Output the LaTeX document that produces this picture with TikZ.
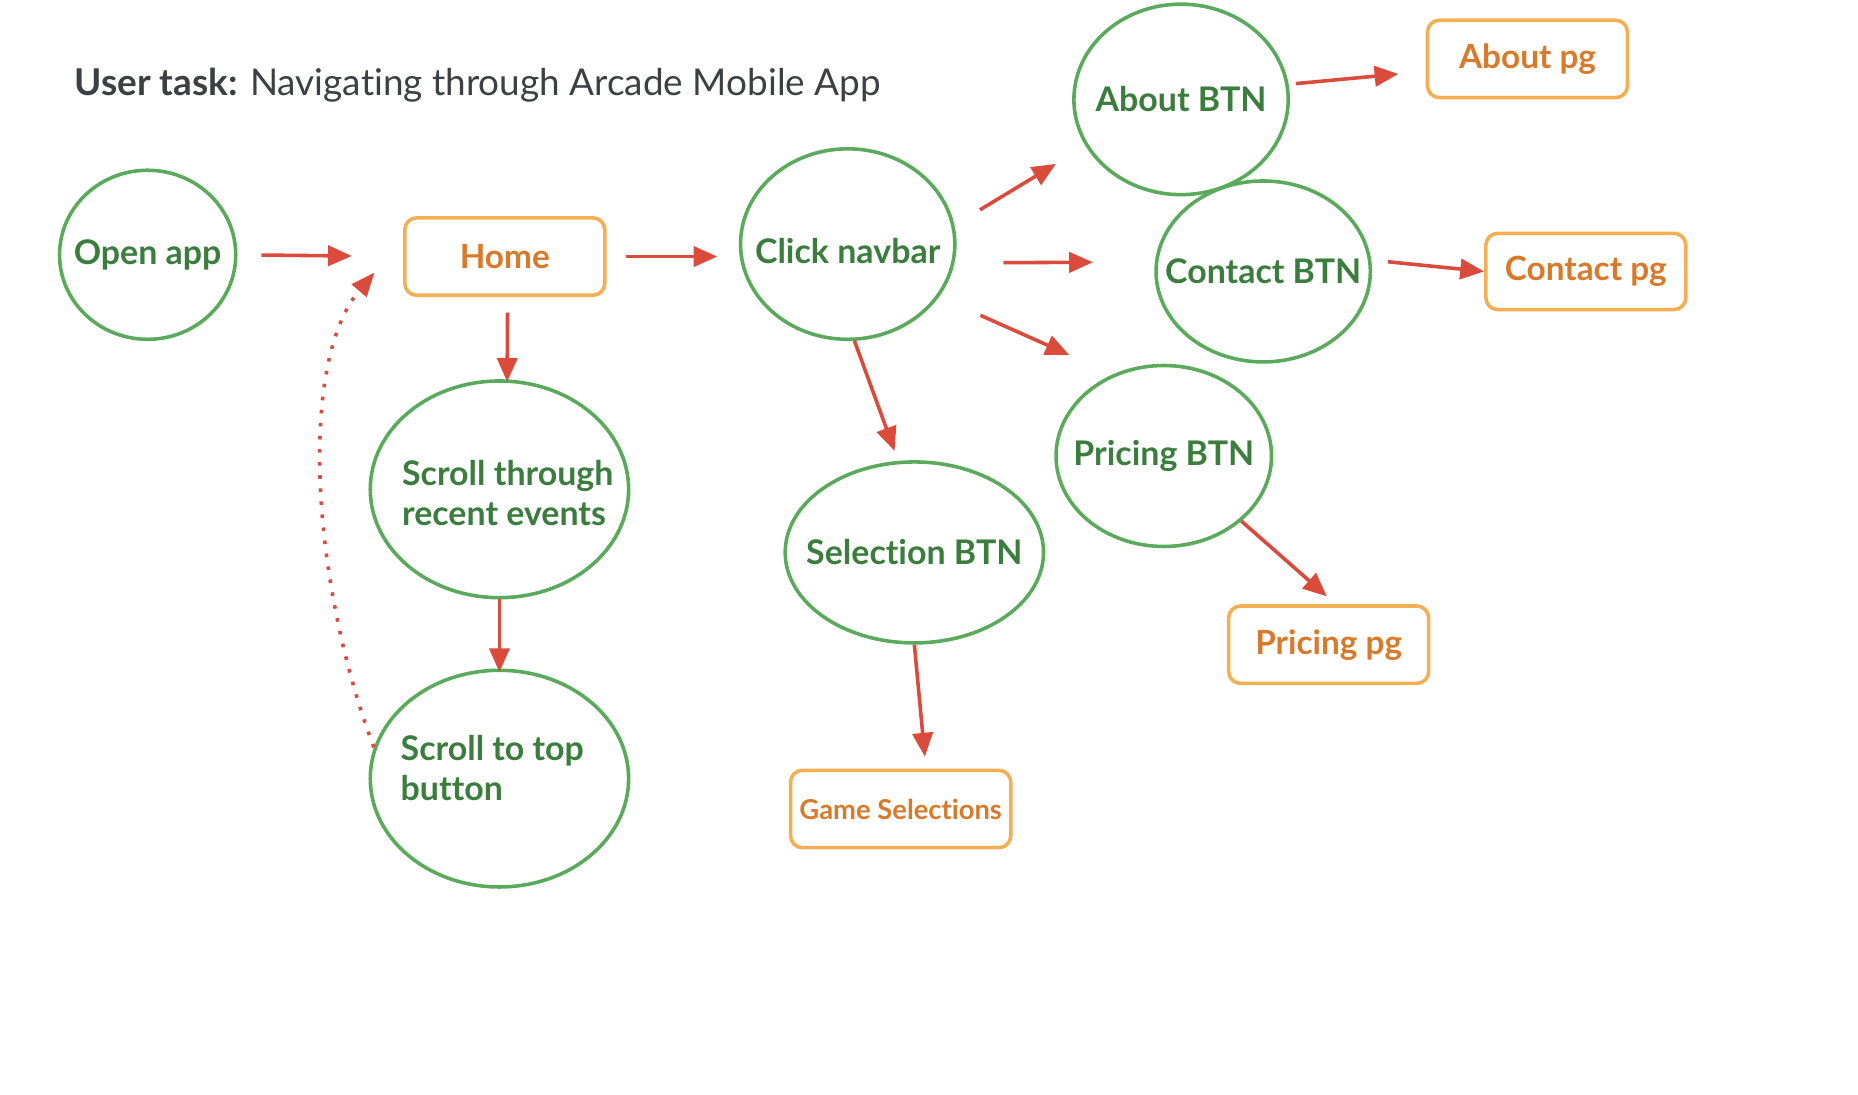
\documentclass[tikz,border=0pt]{standalone}
\usepackage{fontspec}
\setmainfont{Lato}[Ligatures=NoCommon]
\usetikzlibrary{arrows.meta,shapes.geometric}
\definecolor{bubgreen}{HTML}{5AAA5C}
\definecolor{txtgreen}{HTML}{3A7D3C}
\definecolor{boxorange}{HTML}{F4AF52}
\definecolor{txtorange}{HTML}{D97A2B}
\definecolor{arrred}{HTML}{DB4B3C}
\definecolor{titlegray}{HTML}{3C4043}
\begin{document}
\begin{tikzpicture}[x=1pt,y=-1pt,
  bub/.style={ellipse,draw=bubgreen,line width=3pt,inner sep=0pt},
  btxt/.style={text=txtgreen,font=\fontsize{28.5}{33}\selectfont\bfseries,align=left},
  pg/.style={rectangle,rounded corners=10pt,draw=boxorange,line width=3pt,minimum width=168pt,minimum height=65pt,text=txtorange,font=\fontsize{28}{33}\selectfont\bfseries},
  arr/.style={draw=arrred,line width=3pt,-{Triangle[length=20pt,width=17pt]}},
  dotarr/.style={draw=arrred,line width=3pt,dash pattern=on 3pt off 8pt,-{Triangle[length=20pt,width=16pt]}}]
\fill[white] (0,0) rectangle (1560.6,919.7);
\useasboundingbox (0,0) rectangle (1560.6,919.7);
\node[anchor=base west,text=titlegray,font=\fontsize{31}{35}\selectfont] (title) at (59,80) {\textbf{User task:} Navigating through Arcade Mobile App};
\node[bub,minimum width=148pt,minimum height=142pt,label={[btxt]center:Open app}] (open) at (124,214) {};
\node[pg] (home) at (424,215.5) {Home};
\node[bub,minimum width=180pt,minimum height=160pt,label={[btxt,yshift=-6pt]center:Click navbar}] (navbar) at (712,205) {};
\node[bub,minimum width=180pt,minimum height=160pt,label={[btxt]center:About BTN}] (about) at (992,83.5) {};
\node[pg] (aboutpg) at (1283,49.5) {About pg};
\node[bub,minimum width=180pt,minimum height=152pt,label={[btxt]center:Contact BTN}] (contact) at (1061,228) {};
\node[pg,minimum height=64pt] (contactpg) at (1332,228) {Contact pg};
\node[bub,minimum width=181pt,minimum height=152pt,label={[btxt]center:Pricing BTN}] (pricing) at (977.5,383) {};
\node[pg] (pricingpg) at (1116,541.5) {Pricing pg};
\node[bub,minimum width=217pt,minimum height=152pt,label={[btxt]center:Selection BTN}] (select) at (768,464) {};
\node[pg,minimum width=185pt,font=\fontsize{23}{27}\selectfont\bfseries] (games) at (756.5,679.5) {Game Selections};
\node[bub,minimum width=217pt,minimum height=182pt,label={[btxt,xshift=7pt,yshift=-3pt]center:{Scroll through\\recent events}}] (scrollev) at (419.5,411) {};
\node[bub,minimum width=217pt,minimum height=182pt,label={[btxt,xshift=-6pt,yshift=9pt]center:{Scroll to top\\button}}] (scrolltop) at (419.5,654) {};
\draw[arr,shorten <=20pt,shorten >=43pt] (open.east) -- (home.west);
\draw[arr,shorten <=16pt,shorten >=18pt] (home.east) -- (home.east -| navbar.west);
\draw[arr,shorten <=25pt,shorten >=29pt] (navbar.10) -- (about.206);
\draw[arr,shorten <=41pt,shorten >=52pt] (navbar.-10) -- (contact.175);
\draw[arr,shorten <=38pt,shorten >=40pt] (navbar.-30) -- (pricing.122);
\draw[arr,shorten >=9pt] (navbar.-86.4) -- (select.100.5);
\draw[arr,shorten <=6pt,shorten >=23pt] (about.8.3) -- (aboutpg.187);
\draw[arr,shorten <=14pt] (contact.6) -- (contactpg.west);
\draw[arr,shorten >=10pt] (pricing.-40) -- (pricingpg.80);
\draw[arr,shorten >=10pt] (select.south) -- (games.58);
\draw[arr,shorten <=13pt,shorten >=-2pt] (home.-86.5) -- (scrollev.86);
\draw[arr,shorten >=-3pt] (scrollev.south) -- (scrolltop.north);
\coordinate (loopend) at ([shift={(-24,13.5)}]home.west);
\draw[dotarr] (scrolltop.166) .. controls (262,490) and (250,305) .. (loopend);
\end{tikzpicture}
\end{document}
